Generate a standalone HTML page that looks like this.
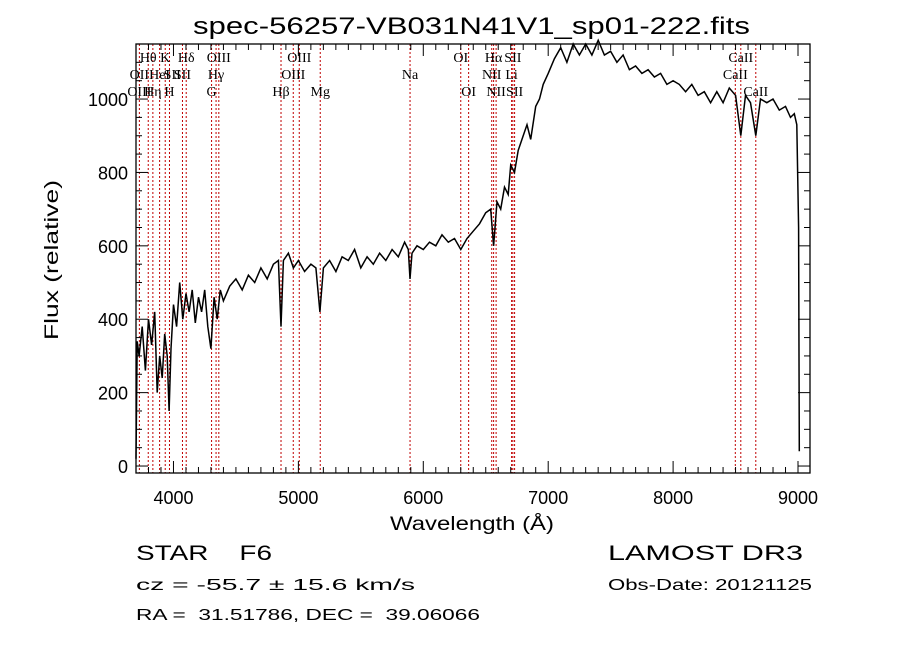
<!DOCTYPE html>
<html><head><meta charset="utf-8"><style>
html,body{margin:0;padding:0;background:#fff;}
svg{display:block;}
text{font-family:"Liberation Sans",sans-serif;fill:#000;white-space:pre;}
.ser{font-family:"Liberation Serif",serif;}
</style></head><body>
<svg id="chart" width="900" height="649" viewBox="0 0 900 649" xmlns="http://www.w3.org/2000/svg" xml:space="preserve">
<rect width="900" height="649" fill="#fff"/>
<text x="193" y="34" font-size="24" textLength="557" lengthAdjust="spacingAndGlyphs">spec-56257-VB031N41V1_sp01-222.fits</text>
<g id="lines"></g>
<g id="labels"></g>
<g id="spec"></g>
<g id="axes"></g>
<text x="472" y="530" font-size="19" text-anchor="middle" textLength="164" lengthAdjust="spacingAndGlyphs">Wavelength (Å)</text>
<text transform="translate(58,260) rotate(-90)" font-size="19" text-anchor="middle" textLength="160" lengthAdjust="spacingAndGlyphs">Flux (relative)</text>
<text x="136" y="560" font-size="21" textLength="136" lengthAdjust="spacingAndGlyphs">STAR    F6</text>
<text x="608" y="560" font-size="21" textLength="195" lengthAdjust="spacingAndGlyphs">LAMOST DR3</text>
<text x="136" y="590" font-size="16" textLength="279" lengthAdjust="spacingAndGlyphs">cz = -55.7 ± 15.6 km/s</text>
<text x="608" y="590" font-size="16" textLength="204" lengthAdjust="spacingAndGlyphs">Obs-Date: 20121125</text>
<text x="136" y="620" font-size="16" textLength="344" lengthAdjust="spacingAndGlyphs">RA =  31.51786, DEC =  39.06066</text>
</svg>
<script>
const wave=[
3700,3710,3725,3750,3775,3800,3825,3850,3870,3890,
3910,3930,3950,3965,3980,4000,4025,4050,4075,4100,
4125,4150,4175,4200,4225,4250,4275,4300,4325,4350,
4375,4400,4450,4500,4550,4600,4650,4700,4750,4800,
4840,4861,4880,4920,4960,5000,5050,5100,5140,5172,
5200,5250,5300,5350,5400,5450,5500,5550,5600,5650,
5700,5750,5800,5850,5880,5894,5910,5950,6000,6050,
6100,6150,6200,6250,6300,6350,6400,6450,6500,6540,
6563,6590,6620,6650,6680,6700,6730,6760,6800,6830,
6860,6900,6930,6960,7000,7050,7100,7150,7200,7250,
7300,7350,7400,7450,7500,7550,7600,7650,7700,7750,
7800,7850,7900,7950,8000,8050,8100,8150,8200,8250,
8300,8350,8400,8450,8500,8542,8580,8620,8662,8700,
8750,8800,8850,8900,8940,8970,8990,9005,9010];
const flux=[
20,340,300,380,260,400,330,420,200,300,
240,360,300,150,320,440,380,500,400,470,
420,480,390,460,420,480,380,320,460,400,
480,450,490,510,480,520,500,540,510,550,
560,380,560,580,540,560,530,550,540,420,
540,560,530,570,560,590,540,570,550,580,
560,590,570,610,590,510,580,600,590,610,
600,630,610,620,590,620,640,660,690,700,
600,720,700,760,740,820,800,860,900,930,
890,980,1000,1040,1070,1110,1140,1100,1150,1120,
1150,1120,1160,1120,1130,1100,1120,1080,1090,1070,
1080,1060,1070,1040,1050,1040,1020,1040,1010,1020,
990,1020,990,1030,1010,900,1010,990,900,1000,
990,1000,970,980,950,960,930,650,40];
const lineWave=[3727,3798,3835,3889,3934,3968,4072,4102,4305,4341,4363,4861,4959,5007,5175,5894,6300,6363,6548,6563,6583,6707,6717,6731,8498,8542,8662];
const labelText=["OIII","Hθ","OII","Hη","HeI","K","SII","H","Hδ","SII","G","Hγ","OIII","Hβ","OIII","OIII","Mg","Na","OI","OI","Hα","NII","NII","SII","Li","SII","CaII","CaII","CaII"];
const labelWave=[3727,3798,3727,3835,3889,3934,3990,3968,4102,4072,4305,4341,4363,4861,4959,5007,5175,5894,6300,6363,6563,6548,6583,6717,6707,6731,8498,8542,8662];
const labelRow=[3,1,2,3,2,1,2,3,1,2,3,2,1,3,2,1,3,2,1,3,1,2,3,1,2,3,2,1,3];
const xTicks=[4000,5000,6000,7000,8000,9000];
const yTicks=[0,200,400,600,800,1000];
const X0=136,X1=810,Y0=44,Y1=473,WMIN=3700,WMAX=9096,FMIN=-19,FMAX=1150;
const xs=w=>X0+(w-WMIN)/(WMAX-WMIN)*(X1-X0);
const ys=f=>Y1-(f-FMIN)/(FMAX-FMIN)*(Y1-Y0);
const NS="http://www.w3.org/2000/svg";
function mk(tag,parent,attrs){const e=document.createElementNS(NS,tag);for(const k in attrs)e.setAttribute(k,attrs[k]);parent.appendChild(e);return e;}
const gl=document.getElementById('lines');
lineWave.forEach(w=>{const l=mk('line',gl,{x1:xs(w),x2:xs(w),y1:Y0,y2:Y1,stroke:'#c00000','stroke-width':1,'stroke-dasharray':'2,2'});

});
const glb=document.getElementById('labels');
labelText.forEach((t,i)=>{const e=mk('text',glb,{x:xs(labelWave[i]),y:Y0+1+labelRow[i]*17,'font-size':14,'text-anchor':'middle',class:'ser'});e.textContent=t;

});
const gs=document.getElementById('spec');
const n=Math.min(wave.length,flux.length);
const pts=[];for(let i=0;i<n;i++)pts.push(xs(wave[i]).toFixed(1)+','+ys(flux[i]).toFixed(1));
const p=mk('polyline',gs,{points:pts.join(' '),fill:'none',stroke:'#000','stroke-width':1.5});


const ga=document.getElementById('axes');
const fr=mk('rect',ga,{x:X0,y:Y0,width:X1-X0,height:Y1-Y0,fill:'none',stroke:'#000','stroke-width':1.3});


for(let w=3700;w<=9096;w+=100){const L=(w%1000===0)?12:6;
mk('line',ga,{x1:xs(w),x2:xs(w),y1:Y1,y2:Y1-L,stroke:'#000'});
mk('line',ga,{x1:xs(w),x2:xs(w),y1:Y0,y2:Y0+L,stroke:'#000'});}
for(let f=0;f<=1150;f+=50){const L=(f%200===0)?12:6;
mk('line',ga,{x1:X0,x2:X0+L,y1:ys(f),y2:ys(f),stroke:'#000'});
mk('line',ga,{x1:X1,x2:X1-L,y1:ys(f),y2:ys(f),stroke:'#000'});}
xTicks.forEach(w=>{const t=mk('text',ga,{x:xs(w),y:Y1+31,'font-size':18,'text-anchor':'middle'});t.textContent=w;

});
yTicks.forEach(f=>{const t=mk('text',ga,{x:X0-8,y:ys(f)+7,'font-size':18,'text-anchor':'end'});t.textContent=f;

});
</script>
</body></html>
